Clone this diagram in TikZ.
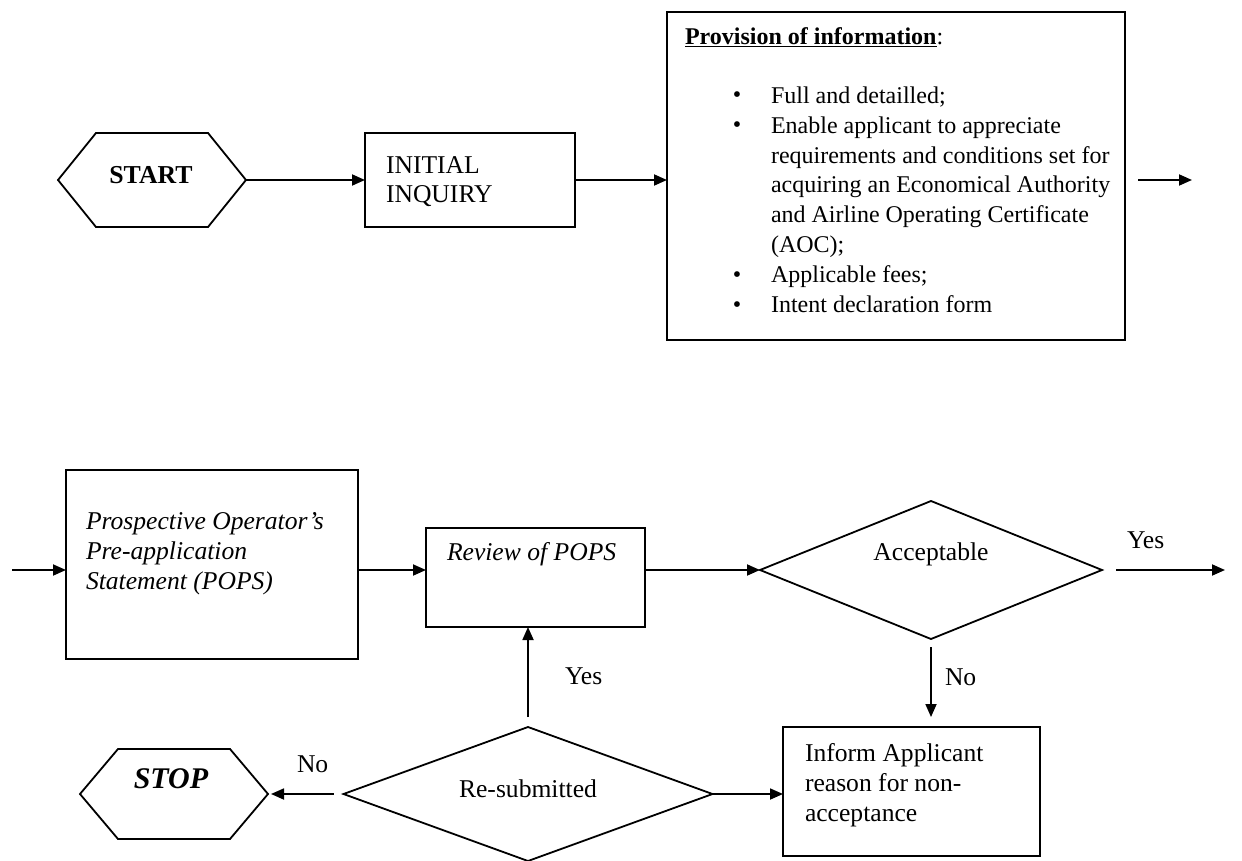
\documentclass[tikz,border=0pt]{standalone}
\usepackage{fontspec}
\setmainfont{Liberation Serif}
\usetikzlibrary{arrows.meta,shapes.geometric}
\begin{document}
\begin{tikzpicture}[x=1pt,y=-1pt,
  every node/.style={font=\fontsize{25.6}{29.8}\selectfont, inner sep=0pt, outer sep=0pt},
  small/.style={font=\fontsize{24}{29.8}\selectfont},
  frame/.style={draw, line width=1.8pt, minimum width=#1},
  decision/.style={draw, diamond, line width=1.8pt, minimum width=#1},
  hexbox/.style={minimum width=188pt},
  txt/.style={anchor=base west, align=left},
  ctxt/.style={anchor=base},
  link/.style={line width=1.8pt, -{Triangle[length=13pt,width=11pt]}},
  hexline/.style={line width=1.8pt, line join=miter}
]
\useasboundingbox (0,0) rectangle (1242,861);

% ---- top row ----
\node[hexbox, minimum height=94pt] (start) at (152,180) {};
\draw[hexline] ([xshift=38pt]start.north west) -- ([xshift=-38pt]start.north east)
  -- (start.east) -- ([xshift=-38pt]start.south east) -- ([xshift=38pt]start.south west)
  -- (start.west) -- cycle;
\node[ctxt, font=\fontsize{25.8}{29.8}\selectfont\bfseries] (start-t) at (151,184) {START};

\node[frame=210pt, minimum height=94pt] (init) at (470,180) {};
% multi-line nodes: the base anchor sits on the last line
\node[txt] (init-t) at (386,203) {INITIAL\\INQUIRY};

\node[frame=458pt, minimum height=328pt] (prov) at (896,176) {};
\node[txt, small] (prov-h) at (685,45) {\underline{\textbf{Provision of information}}:};
\node[ctxt, small] (b1) at (737,103) {\textbullet};
\node[ctxt, small] (b2) at (737,133) {\textbullet};
\node[ctxt, small] (b3) at (737,282) {\textbullet};
\node[ctxt, small] (b4) at (737,312) {\textbullet};
\node[txt, small] (prov-t) at (771,312) {Full and detailled;\\
  Enable applicant to appreciate\\
  requirements and conditions set for\\
  acquiring an Economical Authority\\
  and Airline Operating Certificate\\
  (AOC);\\
  Applicable fees;\\
  Intent declaration form};
\coordinate (out1) at (1192,180);

\draw[link] (start.east) -- (start.east -| init.west);
\draw[link] (init.east) -- (init.east -| prov.west);
\draw[link, shorten <=13pt] (prov.east |- out1) -- (out1);

% ---- lower row ----
\coordinate (in1) at (12,570);
\node[frame=292pt, minimum height=189pt] (pops) at (212,564.5) {};
\node[txt, font=\fontsize{25.6}{29.8}\selectfont\itshape] (pops-t) at (86,589)
  {Prospective Operator's\\Pre-application\\Statement (POPS)};

\node[frame=219pt, minimum height=99pt] (review) at (535.5,577.5) {};
\node[txt, font=\fontsize{25.6}{29.8}\selectfont\itshape] (review-t) at (447,560) {Review of POPS};

\node[decision=342pt, minimum height=138pt] (acc) at (931,570) {};
\node[ctxt] (acc-t) at (931,560) {Acceptable};
\coordinate (out2) at (1225,570);
\node[txt] (yes1) at (1127,548) {Yes};
\node[txt] (no1) at (945,685) {No};

\node[frame=257pt, minimum height=129pt] (inform) at (911.5,791.5) {};
\node[txt] (inform-t) at (805,821) {Inform Applicant\\reason for non-\\acceptance};

\node[decision=369pt, minimum height=134pt] (resub) at (528,794) {};
\node[ctxt] (resub-t) at (528,797) {Re-submitted};
\node[txt] (yes2) at (565,684) {Yes};
\node[txt] (no2) at (297,772) {No};

\node[hexbox, minimum height=90pt] (stop) at (174,794) {};
\draw[hexline] ([xshift=38pt]stop.north west) -- ([xshift=-38pt]stop.north east)
  -- (stop.east) -- ([xshift=-38pt]stop.south east) -- ([xshift=38pt]stop.south west)
  -- (stop.west) -- cycle;
\node[ctxt, font=\fontsize{30}{34}\selectfont\bfseries\itshape] (stop-t) at (171,788) {STOP};

\draw[link] (in1) -- (in1 -| pops.west);
\draw[link] (pops.east |- acc.west) -- (review.west |- acc.west);
\draw[link] (review.east |- acc.west) -- (acc.west);
\draw[link, shorten <=14pt] (acc.east) -- (out2);
\draw[link, shorten <=8pt, shorten >=10pt] (acc.south) -- (acc.south |- inform.north);
\draw[link, shorten <=10pt] (resub.north) -- (resub.north |- review.south);
\draw[link, shorten <=10pt, shorten >=3pt] (resub.west) -- (stop.east);
\draw[link] (resub.east) -- (resub.east -| inform.west);
\end{tikzpicture}
\end{document}
